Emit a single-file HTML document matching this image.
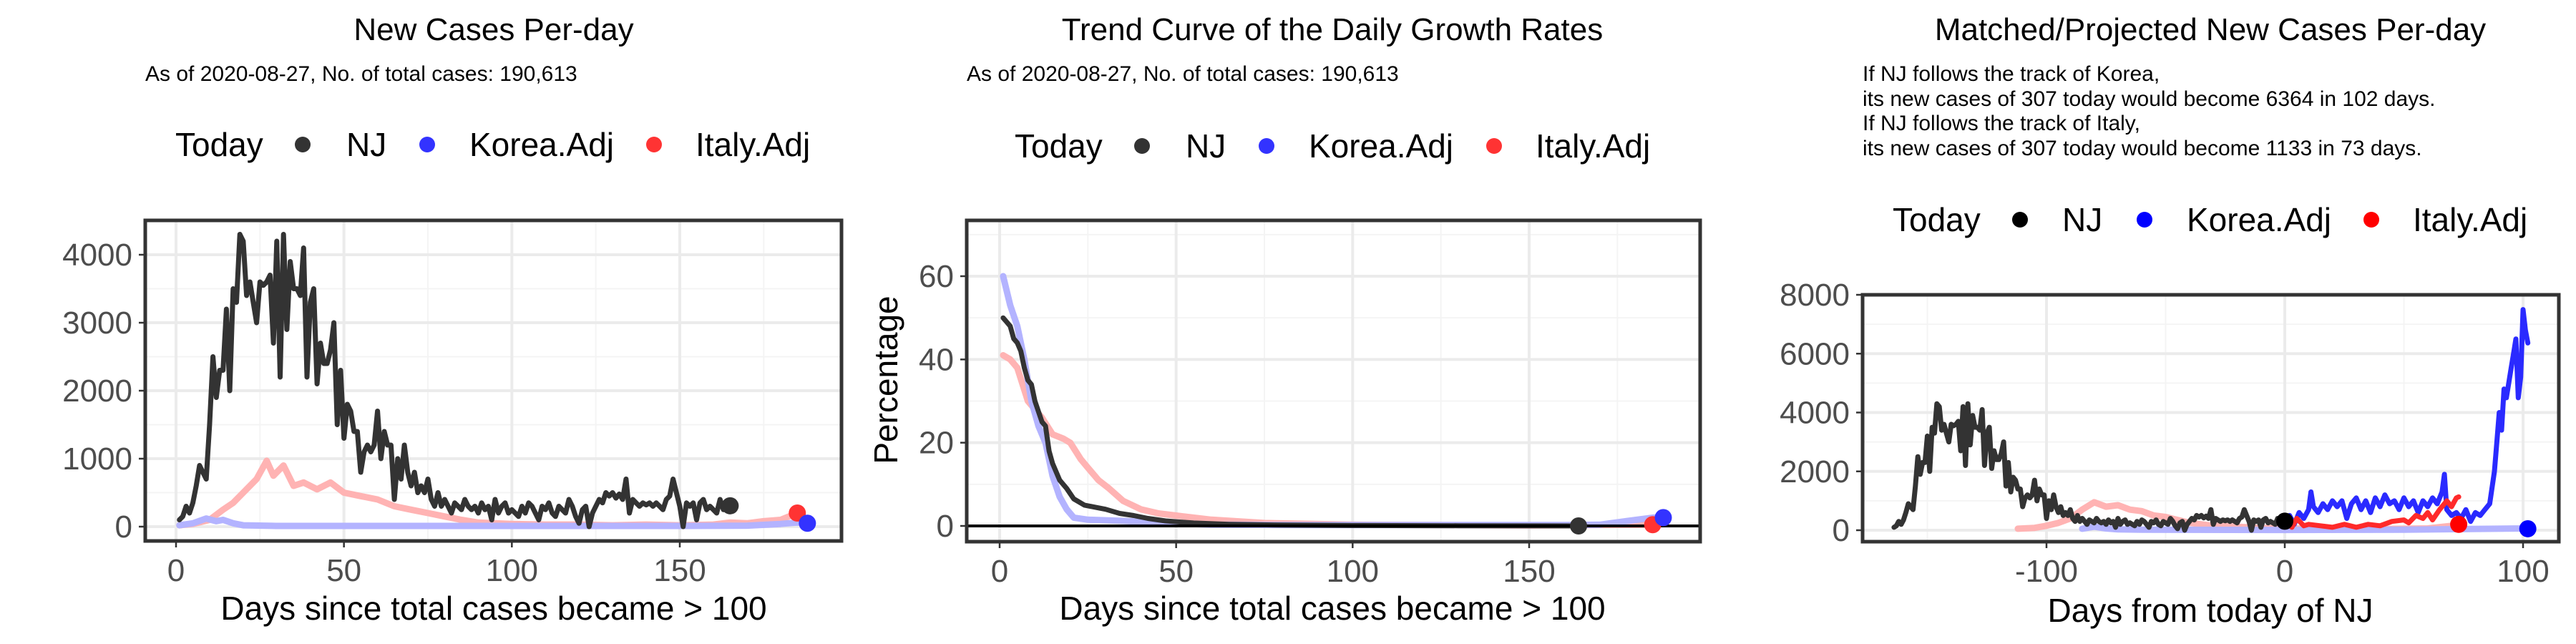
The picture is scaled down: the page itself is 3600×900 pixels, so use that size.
<!DOCTYPE html>
<html><head><meta charset="utf-8">
<style>
html,body{margin:0;padding:0;background:#fff;}
svg{display:block;font-family:"Liberation Sans",Arial,sans-serif;}
</style></head>
<body>
<svg id="chart" width="3600" height="900" viewBox="0 0 3600 900" xmlns="http://www.w3.org/2000/svg"></svg>
<script>
// ---- Panel 1: new cases per day ----
const njCases = [100,150,300,200,350,600,900,800,700,1500,2500,1900,2300,2300,3200,2000,3500,3300,4300,4200,3400,3600,3300,3000,3600,3550,3600,3700,2700,4200,2200,4300,2900,3900,3500,3500,3400,4100,2200,3300,3500,2100,2700,2400,2400,2600,3000,1500,2300,1300,1800,1700,1400,1400,800,1100,1200,1100,1200,1700,1000,1400,1200,1200,400,1000,700,1200,800,600,800,500,600,500,700,400,300,500,300,400,300,200,350,300,250,400,300,250,300,200,350,250,300,100,400,200,300,350,200,250,200,150,300,200,350,300,200,100,300,250,350,200,150,300,250,200,400,300,150,50,250,300,0,200,300,400,350,500,450,500,420,480,400,700,200,400,350,300,350,320,350,300,350,300,250,400,450,700,500,300,0,350,300,350,100,350,400,250,300,250,200,400,250,300,307];
const italyDays1 = [1,5,10,14,17,20,24,27,29,32,35,38,42,46,50,55,60,65,70,75,80,85,90,100,110,120,130,140,150,160,165,170,175,180,185];
const italyCases1 = [20,40,100,250,350,500,700,970,750,900,600,650,550,650,500,450,400,300,250,200,150,100,60,40,30,30,20,30,20,30,60,50,80,100,200];
const koreaDays1 = [1,5,9,12,14,17,20,30,50,100,150,170,180,185,188];
const koreaCases1 = [20,50,120,80,100,50,20,10,10,10,10,15,40,60,50];
const yTicks1 = [0,1000,2000,3000,4000];
const xTicks1 = [0,50,100,150];
// ---- Panel 2: growth rates ----
const njRateDays = [1,2,3,4,5,6,7,8,9,10,12,13,14,15,17,19,21,24,27,30,34,38,42,47,55,65,80,100,130,164];
const njRates = [50,49,48,45,44,42,38,35,34,30,25,24,18,15,11,9,6.5,5,4.5,4,3,2.5,1.8,1.2,0.7,0.4,0.2,0.1,0.05,0];
const koreaRateDays = [1,3,5,7,9,11,13,15,17,19,21,25,35,50,60,80,120,160,170,178,185,188];
const koreaRates = [60,53,48,40,30,24,20,12,7,4,2,1.5,1.2,0.6,0.3,0.2,0.2,0.2,0.3,1.2,2,2];
const italyRateDays = [1,3,5,8,10,12,15,18,20,23,25,28,31,35,40,45,50,60,75,100,150,185];
const italyRates = [41,40,38,30,28,26,22,21,20,16,14,11,9,6,4,3,2.5,1.5,0.7,0.3,0.1,0.3];
const yTicks2 = [0,20,40,60];
// ---- Panel 3: matched / projected ----
const koreaProjDays = [0,2,4,6,8,10,11,12,14,16,18,20,22,24,26,28,30,32,34,36,38,40,42,44,46,48,50,52,54,56,58,60,62,64,66,67,68,70,72,74,76,78,80,82,84,86,88,89,90,91,92,93,94,95,96,97,98,99,100,101,102];
const koreaProj = [300,500,200,600,400,700,1300,800,600,900,700,1000,800,1000,400,900,1100,700,1000,600,1100,800,1200,900,1000,700,1100,800,1000,600,1000,800,1100,900,1300,1900,700,500,600,400,700,300,600,500,700,900,2000,3000,4000,3400,4800,4500,5000,5500,6000,6500,4500,5200,7500,6800,6364];
const italyProjDays = [0,3,5,8,10,15,20,25,30,35,40,45,50,52,55,58,60,62,65,68,70,72,73];
const italyProj = [300,100,400,150,200,150,100,200,100,200,150,300,350,250,500,400,600,350,700,1000,800,1100,1133];
const italyHistDays = [-112,-105,-100,-95,-90,-85,-80,-75,-70,-65,-60,-55,-50,-45,-40,-30,-20,-10,0,20,40,60,70,73];
const italyHist = [50,80,150,250,400,700,950,800,850,700,650,500,450,350,250,150,120,80,60,50,40,60,150,200];
const koreaHistDays = [-85,-80,-75,-70,-60,-40,0,50,100,102];
const koreaHist = [50,120,60,30,20,15,10,20,60,80];
const yTicks3 = [0,2000,4000,6000,8000];
const xTicks3 = [-100,0,100];

const NS = "http://www.w3.org/2000/svg";
const svg = document.getElementById("chart");
function mk(tag, attrs, parent){const e=document.createElementNS(NS,tag);for(const k in attrs)e.setAttribute(k,attrs[k]);(parent||svg).appendChild(e);return e;}
function lin(d0,d1,r0,r1){return v=>r0+(v-d0)*(r1-r0)/(d1-d0);}

function panel(cfg){
  const g=mk("g",{});
  
  
  const {L,R,T,B,x,y}=cfg;
  cfg.xMinor.forEach(v=>{mk("line",{x1:x(v),x2:x(v),y1:T,y2:B,stroke:"#f4f4f4","stroke-width":2},g);});
  cfg.yMinor.forEach(v=>{mk("line",{x1:L,x2:R,y1:y(v),y2:y(v),stroke:"#f4f4f4","stroke-width":2},g);});
  cfg.xTicks.forEach(v=>{mk("line",{x1:x(v),x2:x(v),y1:T,y2:B,stroke:"#ebebeb","stroke-width":4},g);});
  cfg.yTicks.forEach(v=>{mk("line",{x1:L,x2:R,y1:y(v),y2:y(v),stroke:"#ebebeb","stroke-width":4},g);});
  cfg.yTicks.forEach(v=>{
    const t=mk("text",{x:L-18,y:y(v)+15,"text-anchor":"end","font-size":44,fill:"#4d4d4d"},g);t.textContent=v;
    
    
    mk("line",{x1:L-9,x2:L,y1:y(v),y2:y(v),stroke:"#333","stroke-width":2.5},g);
  });
  cfg.xTicks.forEach(v=>{
    const t=mk("text",{x:x(v),y:B+56,"text-anchor":"middle","font-size":44,fill:"#4d4d4d"},g);t.textContent=v;
    
    
    mk("line",{x1:x(v),x2:x(v),y1:B,y2:B+9,stroke:"#333","stroke-width":2.5},g);
  });
  return g;
}
function series(g,xs,ys,x,y,color,w,name,dash){
  const pts=xs.map((d,i)=>x(d).toFixed(1)+","+y(ys[i]).toFixed(1)).join(" ");
  const p=mk("polyline",{points:pts,fill:"none",stroke:color,"stroke-width":w,"stroke-linejoin":"round","stroke-linecap":"round"},g);
  if(dash)p.setAttribute("stroke-dasharray",dash);
  
  
  return p;
}
function dot(g,cx,cy,color,name){
  const c=mk("circle",{cx:cx,cy:cy,r:12,fill:color},g);
  
  
}
function frame(g,L,R,T,B){
  const r=mk("rect",{x:L,y:T,width:R-L,height:B-T,fill:"none",stroke:"#333","stroke-width":5},g);
  
  
}
function txt(x0,y0,s,size,anchor,name){
  const t=mk("text",{x:x0,y:y0,"font-size":size,"text-anchor":anchor||"start",fill:"#000"});
  t.textContent=s;
  
  
  return t;
}
function legend(y0,pos,cols){
  const [today,d1,l1,d2,l2,d3,l3]=pos;
  txt(today,y0+16,"Today",46,"start","legend-title");
  const names=["NJ","Korea.Adj","Italy.Adj"];
  [[d1,l1],[d2,l2],[d3,l3]].forEach((p,i)=>{
    const c=mk("circle",{cx:p[0],cy:y0,r:11,fill:cols[i]});
    
    
    txt(p[1],y0+16,names[i],46,"start","legend-entry");
  });
}
const NJC="#333333", KC="#3333ff", IC="#ff3333", KF="#b3b3ff", IF="#ffb3b3";

// ===== Panel 1 =====
(function(){
  const L=203,R=1176,T=308,B=756;
  const x=lin(0,150,246,950), y=lin(0,4000,736,356);
  const g=panel({name:"new-cases-panel",L,R,T,B,x,y,xTicks:xTicks1,yTicks:yTicks1,xMinor:[25,75,125,175],yMinor:[500,1500,2500,3500]});
  series(g,italyDays1,italyCases1,x,y,IF,9,"italy-adj-line");
  series(g,koreaDays1,koreaCases1,x,y,KF,9,"korea-adj-line");
  series(g,njCases.map((v,i)=>i+1),njCases,x,y,NJC,7,"nj-line");
  dot(g,x(njCases.length),y(njCases[njCases.length-1]),NJC,"nj-today-point");
  dot(g,x(italyDays1[italyDays1.length-1]),y(italyCases1[italyCases1.length-1]),IC,"italy-today-point");
  dot(g,x(koreaDays1[koreaDays1.length-1]),y(koreaCases1[koreaCases1.length-1]),KC,"korea-today-point");
  frame(g,L,R,T,B);
  txt(690,56,"New Cases Per-day",44,"middle","chart-title");
  txt(203,113,"As of 2020-08-27, No. of total cases: 190,613",30,"start","subtitle");
  legend(202,[245,423,484,597,656,914,972],[NJC,KC,IC]);
  txt(690,866,"Days since total cases became > 100",46,"middle","x-axis-title");
})();

// ===== Panel 2 =====
(function(){
  const L=1351,R=2376,T=308,B=757;
  const x=lin(0,150,1397,2137), y=lin(0,60,735,386);
  const g=panel({name:"growth-rate-panel",L,R,T,B,x,y,xTicks:xTicks1,yTicks:yTicks2,xMinor:[25,75,125,175],yMinor:[10,30,50,70]});
  series(g,italyRateDays,italyRates,x,y,IF,9,"italy-adj-rate-line");
  series(g,koreaRateDays,koreaRates,x,y,KF,9,"korea-adj-rate-line");
  series(g,njRateDays,njRates,x,y,NJC,7,"nj-rate-line");
  const z=mk("line",{x1:L,x2:R,y1:y(0),y2:y(0),stroke:"#000","stroke-width":4},g);
  
  
  dot(g,x(njRateDays[njRateDays.length-1]),y(njRates[njRates.length-1]),NJC,"nj-today-point");
  dot(g,x(italyRateDays[italyRateDays.length-1]),y(italyRates[italyRates.length-1]),IC,"italy-today-point");
  dot(g,x(koreaRateDays[koreaRateDays.length-1]),y(koreaRates[koreaRates.length-1]),KC,"korea-today-point");
  frame(g,L,R,T,B);
  txt(1862,56,"Trend Curve of the Daily Growth Rates",44,"middle","chart-title");
  txt(1351,113,"As of 2020-08-27, No. of total cases: 190,613",30,"start","subtitle");
  legend(204,[1418,1596,1657,1770,1829,2088,2146],[NJC,KC,IC]);
  txt(1862,866,"Days since total cases became > 100",46,"middle","x-axis-title");
  const yl=txt(0,0,"Percentage",46,"middle","y-axis-title");
  yl.setAttribute("transform","translate(1254,531) rotate(-90)");
})();

// ===== Panel 3 =====
(function(){
  const L=2603,R=3576,T=412,B=757;
  const x=lin(0,100,3193,3526), y=lin(0,8000,741,412);
  const g=panel({name:"projected-cases-panel",L,R,T,B,x,y,xTicks:xTicks3,yTicks:yTicks3,xMinor:[-150,-50,50],yMinor:[1000,3000,5000,7000]});
  series(g,italyHistDays,italyHist,x,y,IF,9,"italy-matched-line");
  series(g,koreaHistDays,koreaHist,x,y,KF,9,"korea-matched-line");
  const n=njCases.length;
  series(g,njCases.map((v,i)=>i+1-n),njCases,x,y,NJC,7,"nj-line");
  series(g,koreaProjDays,koreaProj,x,y,"#2a2aff",7,"korea-projected-line");
  series(g,italyProjDays,italyProj,x,y,"#ff2a2a",7,"italy-projected-line");
  dot(g,x(0),y(njCases[n-1]),"#000","nj-today-point");
  dot(g,x(italyProjDays[italyProjDays.length-1]),y(200),"#ff0000","italy-today-point");
  dot(g,x(koreaProjDays[koreaProjDays.length-1]),y(50),"#0000ff","korea-today-point");
  frame(g,L,R,T,B);
  txt(3089,56,"Matched/Projected New Cases Per-day",44,"middle","chart-title");
  txt(2603,113,"If NJ follows the track of Korea,",30,"start","projection-note");
  txt(2603,148,"its new cases of 307 today would become 6364 in 102 days.",30,"start","projection-note");
  txt(2603,182,"If NJ follows the track of Italy,",30,"start","projection-note");
  txt(2603,217,"its new cases of 307 today would become 1133 in 73 days.",30,"start","projection-note");
  legend(307,[2645,2823,2882,2997,3056,3314,3372],["#000","#0000ff","#ff0000"]);
  txt(3089,869,"Days from today of NJ",46,"middle","x-axis-title");
})();
</script>
</body></html>
